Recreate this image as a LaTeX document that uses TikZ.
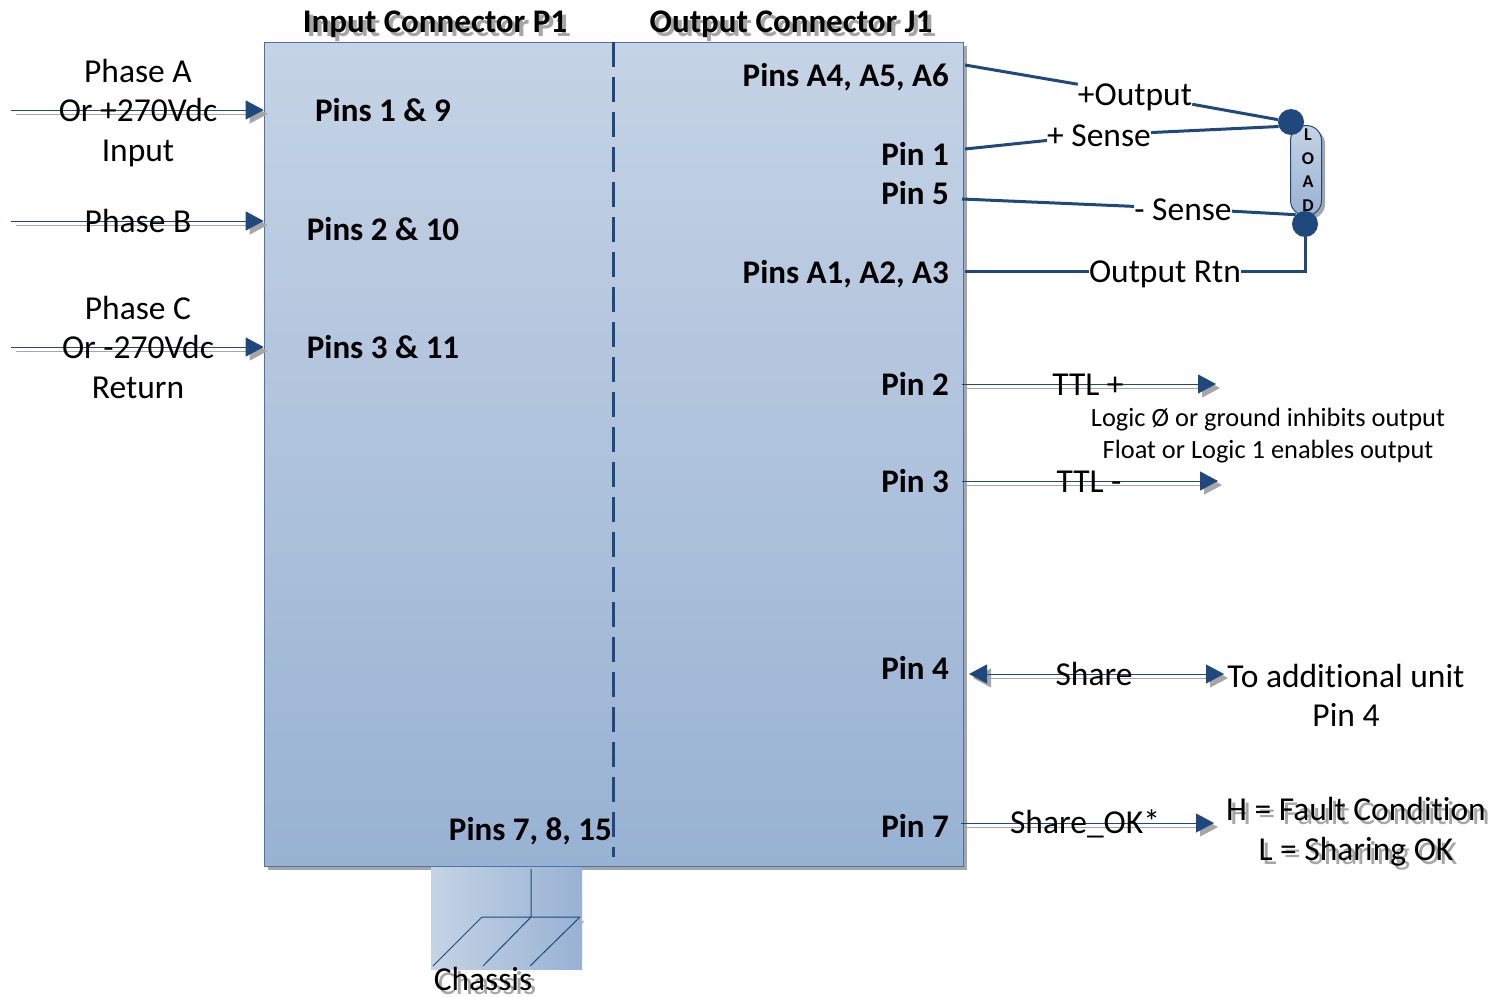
\documentclass[tikz,border=0pt]{standalone}
\usepackage{fontspec}
\setmainfont[Ligatures=CommonOff]{Carlito}
\usetikzlibrary{arrows.meta,calc}
\definecolor{navy}{HTML}{1F497D}
\definecolor{edgeblue}{HTML}{4A74A6}
\definecolor{shadowgray}{HTML}{A6A6A6}
\definecolor{fillTop}{HTML}{C5D3E5}
\definecolor{fillBot}{HTML}{98B2D3}
\tikzset{
  lab/.style={inner sep=0pt,text height=28pt,text depth=6pt,font=\fontsize{33.5}{33.5}\selectfont,text=black},
  blab/.style={lab,font=\fontsize{33}{33}\selectfont\bfseries},
  rlab/.style={blab,anchor=east},
  small/.style={lab,text height=24pt,text depth=6pt,font=\fontsize{26.4}{26.4}\selectfont},
  wlab/.style={inner sep=0pt,text height=24pt,text depth=1pt,font=\fontsize{33.5}{33.5}\selectfont},
  blab0/.style={inner sep=0pt,anchor=base,font=\fontsize{33.5}{33.5}\selectfont},
  ghost/.style={text=shadowgray},
  wire/.style={navy,line width=3pt},
  sig/.style={navy,line width=1pt,-{Triangle[length=18pt,width=19pt]}},
  sigs/.style={shadowgray,line width=1pt,-{Triangle[length=18pt,width=19pt]}},
  dsig/.style={navy,line width=1pt,{Triangle[length=18pt,width=19pt]}-{Triangle[length=18pt,width=19pt]}},
  dsigs/.style={shadowgray,line width=1pt,{Triangle[length=18pt,width=19pt]}-{Triangle[length=18pt,width=19pt]}},
  dot/.style={circle,fill=navy,minimum size=26pt,inner sep=0pt},
}
\begin{document}
\begin{tikzpicture}[x=1pt,y=-1pt]
\useasboundingbox (0,0) rectangle (1506,996);

% block and shadow
\fill[shadowgray] (268,46) rectangle (967,870);
\node[draw=edgeblue,line width=1pt,top color=fillTop,bottom color=fillBot,minimum width=699pt,minimum height=824pt,inner sep=0pt,anchor=north west] (block) at (263.7,42) {};
\coordinate (divT) at (613.5,42);
\coordinate (divB) at (613.5,857);
\draw[navy,line width=3pt,dash pattern=on 25pt off 10pt] (divT) -- (divB);

% chassis
\coordinate (g0) at (531,869);
\coordinate (gc) at (531,917);
\coordinate (gl) at (482,917);
\coordinate (gr) at (580,917);
\coordinate (gla) at (433,966);
\coordinate (gca) at (483,966);
\coordinate (gra) at (530,966);
\draw[shadowgray,line width=1pt] ($(gr)+(4,4)$) -- ($(gra)+(4,4)$) ($(gc)+(4,4)$) -- ($(gca)+(4,4)$) ($(gl)+(4,4)$) -- ($(gla)+(4,4)$);
\node[left color=fillTop,right color=fillBot,minimum width=151pt,minimum height=102pt,inner sep=0pt,anchor=north west] (chassis) at (431,867) {};
\draw[navy,line width=1pt] (g0) -- (gc) (gl) -- (gr) (gl) -- (gla) (gc) -- (gca) (gr) -- (gra);

% load
\fill[shadowgray,rounded corners=15pt] (1294,129) rectangle (1325,219);
\node[draw=navy,line width=1pt,top color=fillTop,bottom color=fillBot,rounded corners=15pt,minimum width=31pt,minimum height=90pt,inner sep=0pt,anchor=north west] (load) at (1290,125) {};
\node[dot] (dotP) at (1291,122) {};
\node[dot] (dotN) at (1305,224) {};
\node[inner sep=0pt,align=center,font=\fontsize{18}{23.5}\selectfont\bfseries] (loadtxt) at (1308,170) {L\\O\\A\\D};

% input arrows
\foreach \n/\yy in {A/110,B/221,C/347}{
  \coordinate (in\n) at (11,\yy);
  \coordinate (pin\n) at (block.west |- in\n);
  \draw[sigs] ($(in\n)+(5,4)$) -- ($(pin\n)+(4,4)$);
  \draw[sig] (in\n) -- (pin\n);
}

% output signal arrows
\coordinate (ttlpS) at (962,384); \coordinate (ttlpE) at (1216,384);
\coordinate (ttlmS) at (962,481); \coordinate (ttlmE) at (1218,481);
\coordinate (shokS) at (961,823); \coordinate (shokE) at (1214,823);
\coordinate (shS) at (969,674);   \coordinate (shE) at (1224,674);
\foreach \a/\b in {ttlpS/ttlpE,ttlmS/ttlmE,shokS/shokE}{
  \draw[sigs] ($(\a)+(4,4)$) -- ($(\b)+(4,4)$);
  \draw[sig] (\a) -- (\b);
}
\draw[dsigs] ($(shS)+(4,4)$) -- ($(shE)+(4,4)$);
\draw[dsig] (shS) -- (shE);

% headings (with their shadows)
\node[blab,ghost] (hIg) at (439,25) {Input Connector P1};
\node[blab] (hI) at (435,21) {Input Connector P1};
\node[blab,ghost] (hOg) at (795,25) {Output Connector J1};
\node[blab] (hO) at (791,21) {Output Connector J1};

% pin labels
\node[blab] (p19) at (383,110) {Pins 1 \& 9};
\node[blab] (p210) at (383,229) {Pins 2 \& 10};
\node[blab] (p311) at (383,347) {Pins 3 \& 11};
\node[rlab] (p7815) at (612,829) {Pins 7, 8, 15};
\node[rlab] (pA4) at (949,75) {Pins A4, A5, A6};
\node[rlab] (pin1) at (949,154) {Pin 1};
\node[rlab] (pin5) at (949,193) {Pin 5};
\node[rlab] (pA1) at (949,272) {Pins A1, A2, A3};
\node[rlab] (pin2) at (949,384) {Pin 2};
\node[rlab] (pin3) at (949,481) {Pin 3};
\node[rlab] (pin4) at (949,668) {Pin 4};
\node[rlab] (pin7) at (949,826) {Pin 7};

% input labels
\node[lab] (la1) at (138,71) {Phase A};
\node[lab] (la2) at (138,110) {Or +270Vdc};
\node[lab] (la3) at (138,150) {Input};
\node[lab] (lb1) at (138,221) {Phase B};
\node[lab] (lc1) at (138,308) {Phase C};
\node[lab] (lc2) at (138,347) {Or -270Vdc};
\node[lab] (lc3) at (138,387) {Return};

% load wiring
\coordinate (oA4) at (965,65);
\coordinate (oS1) at (965,149);
\coordinate (oS5) at (962,199);
\coordinate (oA1) at (965,271);
\node[wlab] (tOut) at (1135,94) {+Output};
\node[wlab] (tSp) at (1099,135) {+ Sense};
\node[wlab] (tSm) at (1183,208.5) {- Sense};
\node[wlab] (tRtn) at (1165,271) {Output Rtn};
\draw[wire] (oA4) -- (tOut) -- (dotP);
\draw[wire] (oS1) -- (tSp) -- (dotP.200);
\draw[wire] (oS5) -- (tSm) -- (dotN.135);
\draw[wire] (oA1) -- (tRtn) -- (dotN |- tRtn) -- (dotN);

% signal labels
\node[lab] (tTp) at (1088,384) {TTL +};
\node[small] (tL0) at (1268,417) {Logic Ø or ground inhibits output};
\node[small] (tL1) at (1268,449) {Float or Logic 1 enables output};
\node[lab] (tTm) at (1089,481) {TTL -};
\node[lab] (tSh) at (1094,674) {Share};
\node[lab] (tAdd) at (1346,676) {To additional unit};
\node[lab] (tP4) at (1346,715) {Pin 4};
\node[lab] (tOK) at (1085,822) {Share\_OK*};
\node[lab,ghost] (tHg) at (1360,813) {H = Fault Condition};
\node[lab] (tH) at (1356,809) {H = Fault Condition};
\node[lab,ghost] (tLg) at (1360,853) {L = Sharing OK};
\node[lab] (tL) at (1356,849) {L = Sharing OK};
\node[blab0,ghost] (tCg) at (487,994) {Chassis};
\node[blab0] (tC) at (483,990) {Chassis};
\end{tikzpicture}
\end{document}
